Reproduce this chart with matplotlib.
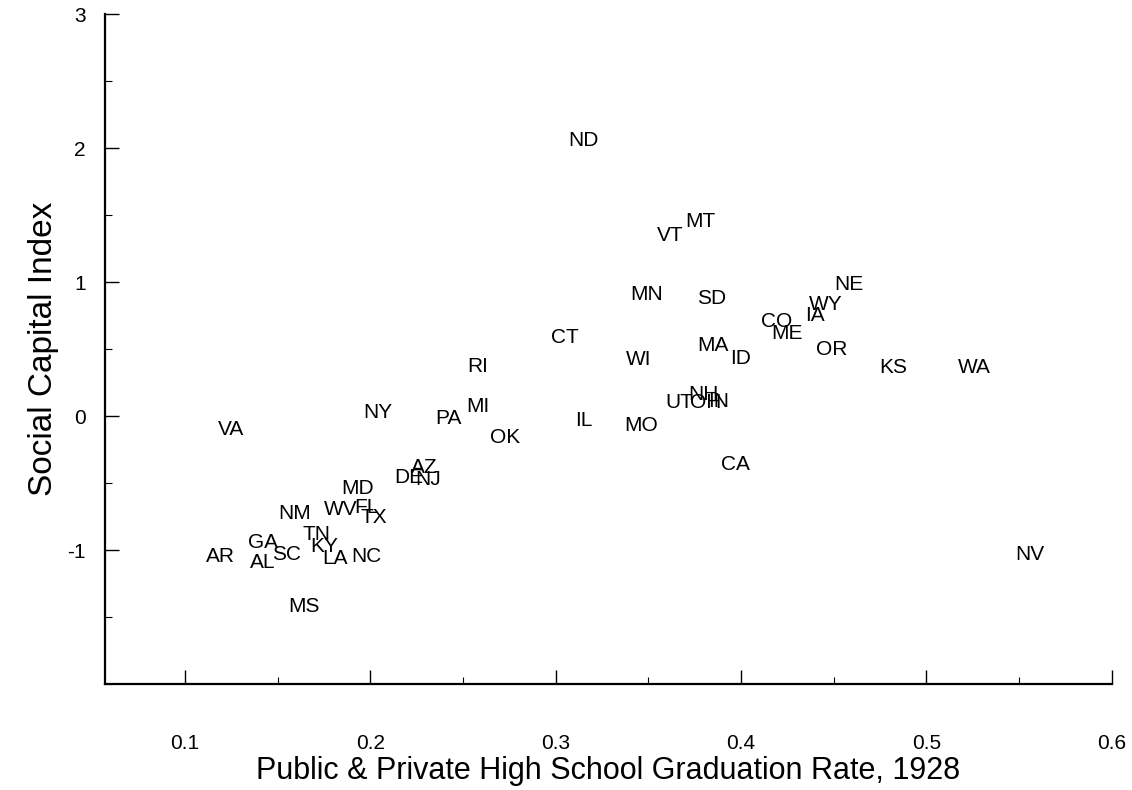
import numpy as np
import matplotlib
matplotlib.use("Agg")
import matplotlib.pyplot as plt
from matplotlib.ticker import MultipleLocator

plt.rcParams['font.family'] = ['Liberation Sans', 'DejaVu Sans']

# state abbreviations, graduation rate (1928) and social capital index
states = ["ND", "MT", "VT", "NE", "MN", "SD", "WY", "IA", "CO", "ME",
          "CT", "MA", "OR", "ID", "KS", "WA", "WI", "RI", "NH", "OH",
          "UT", "IN", "MI", "NY", "IL", "PA", "MO", "VA", "OK", "CA",
          "AZ", "DE", "NJ", "MD", "FL", "WV", "TX", "NM", "TN", "KY",
          "GA", "SC", "LA", "NC", "AR", "AL", "MS", "NV"]
grad_rate = [0.315, 0.378, 0.362, 0.458, 0.349, 0.384, 0.446, 0.440, 0.419, 0.425,
             0.305, 0.385, 0.449, 0.400, 0.482, 0.526, 0.345, 0.258, 0.380, 0.381,
             0.367, 0.388, 0.258, 0.204, 0.315, 0.242, 0.346, 0.125, 0.273, 0.397,
             0.229, 0.221, 0.231, 0.193, 0.198, 0.184, 0.202, 0.159, 0.171, 0.175,
             0.142, 0.155, 0.181, 0.198, 0.119, 0.142, 0.164, 0.556]
soc_cap = [2.06, 1.45, 1.35, 0.98, 0.91, 0.88, 0.83, 0.75, 0.71, 0.62,
           0.59, 0.53, 0.50, 0.43, 0.36, 0.36, 0.42, 0.37, 0.16, 0.10,
           0.10, 0.11, 0.07, 0.03, -0.03, -0.02, -0.07, -0.10, -0.16, -0.36,
           -0.38, -0.46, -0.47, -0.54, -0.68, -0.70, -0.76, -0.73, -0.88, -0.97,
           -0.94, -1.03, -1.06, -1.05, -1.05, -1.09, -1.42, -1.03]

fig = plt.figure(figsize=(11.32, 7.9), dpi=100)
ax = fig.add_axes([0.093, 0.134, 0.889, 0.848])

# labels only, no markers
for s, x, y in zip(states, grad_rate, soc_cap):
    ax.text(x, y, s, ha="center", va="center", fontsize=15)

ax.set_xlim(0.057, 0.6)
ax.set_ylim(-2, 3)

ax.spines["top"].set_visible(False)
ax.spines["right"].set_visible(False)
ax.spines["left"].set_linewidth(1.6)
ax.spines["bottom"].set_linewidth(1.6)

ax.set_xticks([0.1, 0.2, 0.3, 0.4, 0.5, 0.6])
ax.set_xticklabels(["0.1", "0.2", "0.3", "0.4", "0.5", "0.6"])
ax.xaxis.set_minor_locator(MultipleLocator(0.05))
ax.set_yticks([-1, 0, 1, 2, 3])
ax.set_yticklabels(["-1", "0", "1", "2", "3"])
ax.yaxis.set_minor_locator(MultipleLocator(0.5))

ax.tick_params(axis="both", which="major", direction="in", length=10, width=1.0, labelsize=15)
ax.tick_params(axis="both", which="minor", direction="in", length=5, width=0.8)
ax.tick_params(axis="x", which="major", pad=36)
ax.tick_params(axis="y", which="major", pad=14)

ax.set_xlabel("Public & Private High School Graduation Rate, 1928", fontsize=22, labelpad=2)
ax.set_ylabel("Social Capital Index", fontsize=24, labelpad=6)

fig.savefig("out.png", dpi=100)
